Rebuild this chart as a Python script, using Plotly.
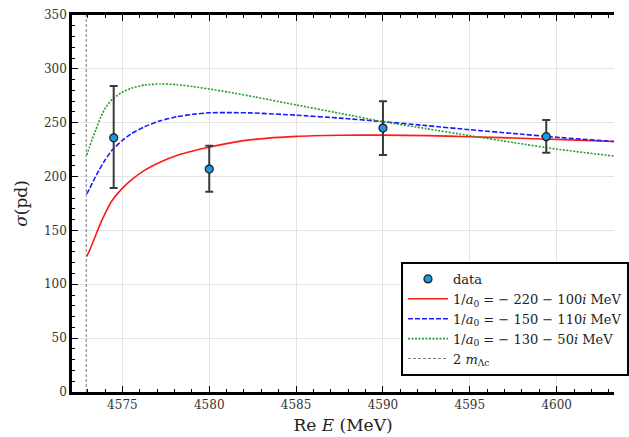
import plotly.graph_objects as go

# threshold 2 m_Lambda_c (MeV)
threshold = 4572.92

# data points
data_E = [4574.5, 4580.0, 4590.0, 4599.4]
data_sigma = [236.0, 207.0, 245.0, 237.0]
data_err_plus = [48.0, 21.5, 25.0, 15.5]
data_err_minus = [46.5, 21.0, 25.0, 15.0]

# curves
red_E = [4572.95, 4573.10, 4573.38, 4573.66, 4574.03, 4574.40, 4575.02, 4575.52, 4576.27,
         4577.20, 4578.13, 4579.06, 4579.99, 4581.3, 4582.6, 4585.0, 4587.5, 4590.0,
         4592.5, 4595.0, 4597.5, 4600.0, 4603.3]
red_sigma = [126.0, 131.0, 142.0, 153.5, 166.5, 177.5, 189.5, 197.0, 205.8,
             213.6, 219.6, 223.8, 227.2, 231.5, 234.5, 237.3, 238.3, 238.5,
             238.0, 237.0, 235.8, 234.5, 232.5]

blue_E = [4572.95, 4573.10, 4573.38, 4573.66, 4574.03, 4574.40, 4575.02, 4575.52, 4576.27,
          4577.20, 4578.13, 4579.06, 4579.99, 4581.3, 4582.6, 4585.0, 4587.5, 4590.0,
          4592.5, 4595.0, 4597.5, 4600.0, 4603.3]
blue_sigma = [184.0, 188.5, 197.5, 206.1, 216.0, 224.5, 233.8, 239.8, 246.2,
              251.9, 255.6, 257.8, 259.2, 259.4, 259.0, 257.0, 254.3, 251.0,
              247.3, 243.5, 240.0, 236.5, 232.5]

green_E = [4572.95, 4573.10, 4573.28, 4573.47, 4573.75, 4574.03, 4574.40, 4574.96, 4575.52,
           4576.27, 4577.20, 4578.13, 4579.06, 4580.36, 4581.5, 4582.6, 4585.0, 4587.5,
           4590.0, 4592.5, 4595.0, 4597.5, 4600.0, 4603.3]
green_sigma = [220.0, 227.0, 235.5, 243.5, 255.0, 264.0, 271.5, 278.0, 282.0,
               285.0, 286.0, 285.4, 283.5, 280.4, 277.3, 274.0, 266.5, 258.8,
               251.0, 244.5, 238.0, 231.6, 225.5, 219.0]

labels = [
    "data",
    "1/<i>a</i><sub>0</sub> = − 220 − 100<i>i</i> MeV",
    "1/<i>a</i><sub>0</sub> = − 150 − 110<i>i</i> MeV",
    "1/<i>a</i><sub>0</sub> = − 130 − 50<i>i</i> MeV",
    "2 <i>m</i><sub>Λc</sub>",
]

serif = "DejaVu Serif"

fig = go.Figure()

fig.add_trace(go.Scatter(
    x=red_E, y=red_sigma, mode="lines", name=labels[1],
    line=dict(color="#ff1a1a", width=1.6, shape="spline", smoothing=0.5),
    legendrank=2,
))
fig.add_trace(go.Scatter(
    x=blue_E, y=blue_sigma, mode="lines", name=labels[2],
    line=dict(color="#1a1aff", width=1.6, dash="5px,2px", shape="spline", smoothing=0.5),
    legendrank=3,
))
fig.add_trace(go.Scatter(
    x=green_E, y=green_sigma, mode="lines", name=labels[3],
    line=dict(color="#2a9a2a", width=1.6, dash="2px,1.5px", shape="spline", smoothing=0.5),
    legendrank=4,
))
fig.add_trace(go.Scatter(
    x=[threshold, threshold], y=[0, 350], mode="lines", name=labels[4],
    line=dict(color="#777777", width=1, dash="3px,2px"),
    legendrank=5,
))
fig.add_trace(go.Scatter(
    x=data_E, y=data_sigma, mode="markers", name=labels[0],
    marker=dict(color="#2196e0", size=8, line=dict(color="#1a1a1a", width=1.2)),
    error_y=dict(type="data", array=data_err_plus, arrayminus=data_err_minus,
                 color="#3a3a3a", thickness=2, width=4),
    legendrank=1,
))

axis_common = dict(
    showline=True, linecolor="black", linewidth=2.5,
    ticks="inside", ticklen=6, tickwidth=1.2, tickcolor="black",
    showgrid=True, gridcolor="#e3e3e3", gridwidth=1,
    zeroline=False,
    tickfont=dict(family=serif, size=12, color="#333333"),
)

fig.update_xaxes(
    **axis_common,
    range=[4572.1, 4603.3], tick0=4575, dtick=5, mirror="ticks",
    minor=dict(dtick=1, ticks="inside", ticklen=3, tickcolor="black", showgrid=False),
    title=dict(text="Re <i>E</i> (MeV)", font=dict(family=serif, size=17, color="#222"), standoff=8),
)
fig.update_yaxes(
    **axis_common,
    range=[0, 350], tick0=0, dtick=50, mirror=False,
    minor=dict(dtick=10, ticks="inside", ticklen=3, tickcolor="black", showgrid=False),
    title=dict(text="<i>σ</i>(pd)", font=dict(family=serif, size=17, color="#222"), standoff=12),
)

fig.update_layout(
    width=629, height=437,
    margin=dict(l=72, r=0, t=15, b=45),
    paper_bgcolor="white", plot_bgcolor="white",
    showlegend=True,
    legend=dict(
        x=0.607, y=0.345, xanchor="left", yanchor="top",
        bgcolor="white", bordercolor="black", borderwidth=2,
        font=dict(family=serif, size=13, color="#222"),
        tracegroupgap=0, itemwidth=40,
    ),
)

fig.write_html("out.html")
